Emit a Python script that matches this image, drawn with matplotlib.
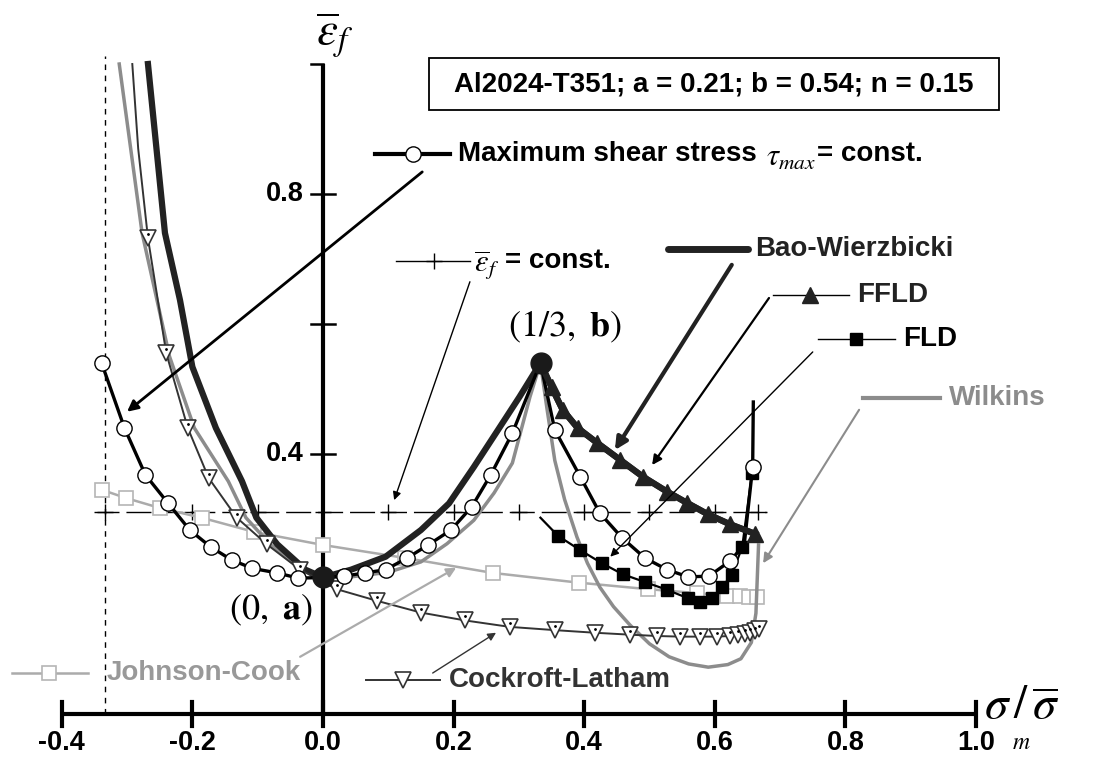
import numpy as np
import matplotlib
matplotlib.use("Agg")
import matplotlib.pyplot as plt
from matplotlib.patches import Rectangle

plt.rcParams['font.family'] = ['Liberation Sans', 'DejaVu Sans']
plt.rcParams['mathtext.fontset'] = 'stix'

# material point values
a_val = 0.21
b_val = 0.54

# axes ticks
x_ticks = [-0.4, -0.2, 0.0, 0.2, 0.4, 0.6, 0.8, 1.0]
y_ticks = [0.4, 0.6, 0.8]
y_tick_labels = {0.4: "0.4", 0.8: "0.8"}

# maximum shear stress = const. (open circles), last two points without markers
ms_x = [-0.339, -0.304, -0.272, -0.237, -0.204, -0.172, -0.14, -0.108, -0.07, -0.038, 0.0,
        0.032, 0.064, 0.096, 0.129, 0.161, 0.196, 0.228, 0.257, 0.29, 0.333,
        0.355, 0.394, 0.424, 0.458, 0.493, 0.527, 0.559, 0.591, 0.623, 0.645, 0.658, 0.659]
ms_y = [0.54, 0.44, 0.368, 0.324, 0.283, 0.257, 0.237, 0.224, 0.217, 0.209, 0.21,
        0.212, 0.217, 0.222, 0.24, 0.26, 0.283, 0.319, 0.368, 0.432, 0.54,
        0.437, 0.365, 0.309, 0.271, 0.24, 0.222, 0.211, 0.212, 0.235, 0.26, 0.38, 0.48]
ms_nomark = [30, 32]

# eps_f = const.
ec_x = [-1/3, -0.2, -0.1, 0.0, 0.1, 0.2, 0.3, 0.4, 0.5, 0.6, 2/3]
ec_level = 0.31

# Cockroft-Latham (open down triangles), first two points without markers
cl_x = [-0.292, -0.283, -0.268, -0.24, -0.207, -0.175, -0.132, -0.086, -0.035, 0.021, 0.083,
        0.15, 0.217, 0.286, 0.355, 0.416, 0.47, 0.511, 0.547, 0.577, 0.603, 0.623,
        0.636, 0.646, 0.654, 0.661, 0.667]
cl_y = [1.0, 0.87, 0.732, 0.555, 0.44, 0.363, 0.302, 0.261, 0.222, 0.192, 0.174,
        0.156, 0.144, 0.134, 0.129, 0.125, 0.122, 0.12, 0.119, 0.119, 0.119, 0.12,
        0.121, 0.123, 0.125, 0.127, 0.13]

# Wilkins (grey line)
wk_x = [-0.312, -0.277, -0.235, -0.197, -0.145, -0.118, -0.081, -0.033, 0.0, 0.043, 0.1,
        0.15, 0.19, 0.231, 0.262, 0.29, 0.317, 0.333, 0.343, 0.355, 0.37, 0.389, 0.405,
        0.424, 0.445, 0.47, 0.5, 0.53, 0.56, 0.59, 0.62, 0.64, 0.656, 0.663, 0.667]
wk_y = [1.0, 0.74, 0.55, 0.44, 0.358, 0.302, 0.261, 0.222, 0.21, 0.211, 0.218,
        0.234, 0.262, 0.298, 0.34, 0.386, 0.488, 0.54, 0.47, 0.39, 0.33, 0.272, 0.232,
        0.195, 0.165, 0.137, 0.108, 0.088, 0.077, 0.072, 0.076, 0.085, 0.11, 0.155, 0.26]

# Bao-Wierzbicki (thick line)
bw_x = [-0.268, -0.242, -0.219, -0.2, -0.164, -0.124, -0.102, -0.07, -0.027, 0.0,
        0.043, 0.096, 0.15, 0.193, 0.231, 0.268, 0.301, 0.333,
        0.35, 0.367, 0.39, 0.42, 0.455, 0.49, 0.527, 0.557, 0.59, 0.623, 0.662]
bw_y = [1.0, 0.74, 0.637, 0.534, 0.44, 0.358, 0.302, 0.261, 0.222, 0.21,
        0.222, 0.242, 0.283, 0.324, 0.38, 0.437, 0.488, 0.54,
        0.503, 0.468, 0.44, 0.417, 0.391, 0.365, 0.342, 0.325, 0.307, 0.292, 0.277]

# FFLD (filled up triangles)
ff_x = [0.333, 0.35, 0.367, 0.39, 0.42, 0.455, 0.49, 0.527, 0.557, 0.59, 0.623, 0.662]
ff_y = [0.54, 0.503, 0.468, 0.44, 0.417, 0.391, 0.365, 0.342, 0.325, 0.307, 0.292, 0.277]

# FLD (filled squares)
fld_x = [0.333, 0.36, 0.394, 0.427, 0.459, 0.493, 0.527, 0.559, 0.577, 0.596, 0.611, 0.626, 0.642, 0.657]
fld_y = [0.302, 0.274, 0.252, 0.232, 0.215, 0.203, 0.191, 0.178, 0.172, 0.178, 0.195, 0.214, 0.257, 0.371]

# Johnson-Cook (open grey squares)
jc_x = [-0.339, -0.301, -0.25, -0.186, -0.105, 0.0, 0.126, 0.26, 0.392, 0.498, 0.573, 0.619, 0.639, 0.652, 0.665]
jc_y = [0.345, 0.332, 0.317, 0.302, 0.28, 0.26, 0.24, 0.217, 0.202, 0.192, 0.186, 0.182, 0.181, 0.18, 0.18]

# colours
c_bw = '#222222'
c_wk = '#8c8c8c'
c_jc = '#ababab'
c_cl = '#333333'

fig = plt.figure(figsize=(10.97, 7.57), dpi=100)
ax = fig.add_axes([0, 0, 1, 1])
ax.set_xlim(-0.4946, 1.1853)
ax.set_ylim(-0.0662, 1.0985)
ax.axis('off')

# ---- hand drawn axes
ax.plot([-0.4, 1.0], [0, 0], color='k', lw=3, solid_capstyle='butt', zorder=1)
for t in x_ticks:
    ax.plot([t, t], [-0.0185, 0.0185], color='k', lw=3, zorder=1)
    ax.text(t, -0.044, f'{t:.1f}', ha='center', va='center', fontsize=19.5, fontweight='bold')
ax.plot([0, 0], [0, 1.0], color='k', lw=3, solid_capstyle='butt', zorder=1)
for t in y_ticks:
    ax.plot([-0.0185, 0.0185], [t, t], color='k', lw=1.8, zorder=1)
    if t in y_tick_labels:
        ax.text(-0.03, t, y_tick_labels[t], ha='right', va='center', fontsize=19.5, fontweight='bold')
ax.plot([-0.0185, 0], [1.0, 1.0], color='k', lw=1.8, zorder=1)

ax.text(0.018, 1.045, r'$\overline{\varepsilon}_f$', fontsize=34, ha='center', va='center')
ax.text(1.013, -0.008, r'$\sigma\,/\,\overline{\sigma}$', fontsize=34, ha='left', va='baseline')
ax.text(1.07, -0.045, r'$m$', fontsize=17, ha='center', va='center')

# ---- reference lines
ax.plot([-1/3, -1/3], [0, 1.012], color='k', lw=1, ls=(0, (4, 4)), zorder=1)
ax.plot([-0.35, 0.68], [ec_level, ec_level], color='k', lw=1, ls=(0, (18, 5)), zorder=2)
ax.plot(ec_x, [ec_level] * len(ec_x), ls='none', marker='+', ms=12, mew=1, color='k', zorder=2)

# ---- curves
ax.plot(jc_x, jc_y, color=c_jc, lw=1.8, marker='s', ms=10, mfc='white', mec='#b5b5b5', mew=1.2, zorder=3)
ax.plot(wk_x, wk_y, color=c_wk, lw=2.5, zorder=3)
ax.plot(bw_x, bw_y, color=c_bw, lw=4.5, zorder=4, solid_joinstyle='round')
cl_mark = list(range(2, len(cl_x)))
ax.plot(cl_x, cl_y, color=c_cl, lw=1.4, marker='v', ms=12, mfc='white', mec=c_cl, mew=1.2,
        markevery=cl_mark, zorder=5)
ax.plot(np.array(cl_x)[cl_mark], np.array(cl_y)[cl_mark] + 0.006, ls='none', marker='.', ms=2, color='k', zorder=5)
ax.plot(fld_x, fld_y, color='k', lw=1.6, marker='s', ms=9, mfc='k', mec='k', markevery=list(range(1, len(fld_x))), zorder=6)
ms_mark = [i for i in range(len(ms_x)) if i not in ms_nomark]
ax.plot(ms_x, ms_y, color='k', lw=2.4, marker='o', ms=11, mfc='white', mec='k', mew=1,
        markevery=ms_mark, zorder=7)
ax.plot(ff_x, ff_y, color=c_bw, lw=4.5, marker='^', ms=12, mfc=c_bw, mec=c_bw,
        markevery=list(range(1, len(ff_x))), zorder=8)

# special points
ax.plot([0, 1/3], [a_val, b_val], ls='none', marker='o', ms=15, color='#1a1a1a', zorder=9)
ax.text(-0.08, 0.16, r'$(0,\ \mathbf{a})$', fontsize=26, ha='center', va='center')
ax.text(0.37, 0.596, r'$(1/3,\ \mathbf{b})$', fontsize=26, ha='center', va='center')

# ---- title box
ax.add_patch(Rectangle((0.162, 0.929), 0.873, 0.08, fill=False, lw=1.3, ec='k'))
ax.text(0.5985, 0.969, 'Al2024-T351; a = 0.21; b = 0.54; n = 0.15', fontsize=20, fontweight='bold',
        ha='center', va='center')

# ---- labels with their samples and arrows
def arrow(start, tip, color, lw, ms=16):
    ax.annotate('', xy=tip, xytext=start,
                arrowprops=dict(arrowstyle='-|>', color=color, lw=lw, mutation_scale=ms,
                                shrinkA=0, shrinkB=0), zorder=10)

# max shear
ax.plot([0.08, 0.194], [0.862, 0.862], color='k', lw=3)
ax.plot([0.138], [0.862], marker='o', ms=11, mfc='white', mec='k')
ax.text(0.207, 0.862, 'Maximum shear stress', fontsize=20, fontweight='bold', va='center')
ax.text(0.678, 0.856, r'$\tau_{max}$', fontsize=22, va='center')
ax.text(0.757, 0.862, '= const.', fontsize=20, fontweight='bold', va='center')
arrow((0.152, 0.834), (-0.300, 0.465), 'k', 2)

# eps const
ax.plot([0.112, 0.225], [0.697, 0.697], color='k', lw=1)
ax.plot([0.17], [0.697], marker='+', ms=12, color='k')
ax.text(0.232, 0.69, r'$\overline{\varepsilon}_f$', fontsize=22, va='center')
ax.text(0.278, 0.697, '= const.', fontsize=20, fontweight='bold', va='center')
arrow((0.225, 0.665), (0.109, 0.329), 'k', 1, 12)

# Bao-Wierzbicki
ax.plot([0.528, 0.651], [0.715, 0.715], color=c_bw, lw=5, solid_capstyle='round')
ax.text(0.662, 0.715, 'Bao-Wierzbicki', fontsize=20, fontweight='bold', color=c_bw, va='center')
arrow((0.626, 0.691), (0.447, 0.406), c_bw, 3, 18)

# FFLD
ax.plot([0.689, 0.806], [0.645, 0.645], color='k', lw=1)
ax.plot([0.746], [0.645], marker='^', ms=12, color=c_bw)
ax.text(0.818, 0.645, 'FFLD', fontsize=20, fontweight='bold', color=c_bw, va='center')
arrow((0.683, 0.64), (0.504, 0.383), 'k', 1.6, 14)

# FLD
ax.plot([0.758, 0.876], [0.577, 0.577], color='k', lw=1)
ax.plot([0.816], [0.577], marker='s', ms=9, color='k')
ax.text(0.888, 0.577, 'FLD', fontsize=20, fontweight='bold', va='center')
arrow((0.75, 0.557), (0.44, 0.242), 'k', 1, 12)

# Wilkins
ax.plot([0.827, 0.945], [0.486, 0.486], color=c_wk, lw=3)
ax.text(0.959, 0.486, 'Wilkins', fontsize=20, fontweight='bold', color=c_wk, va='center')
arrow((0.821, 0.468), (0.674, 0.232), c_wk, 1.5, 14)

# Johnson-Cook
ax.plot([-0.476, -0.36], [0.063, 0.063], color=c_jc, lw=1.8)
ax.plot([-0.42], [0.063], marker='s', ms=10, mfc='white', mec='#b5b5b5', mew=1.2)
ax.text(-0.332, 0.063, 'Johnson-Cook', fontsize=20, fontweight='bold', color='#999999', va='center')
arrow((-0.035, 0.088), (0.204, 0.225), c_jc, 1.6, 14)

# Cockroft-Latham
ax.plot([0.066, 0.179], [0.052, 0.052], color=c_cl, lw=1.4)
ax.plot([0.123], [0.052], marker='v', ms=12, mfc='white', mec=c_cl, mew=1.2)
ax.text(0.193, 0.052, 'Cockroft-Latham', fontsize=20, fontweight='bold', color=c_cl, va='center')
arrow((0.168, 0.063), (0.265, 0.125), c_cl, 1, 12)

fig.savefig('out.png', dpi=100)
